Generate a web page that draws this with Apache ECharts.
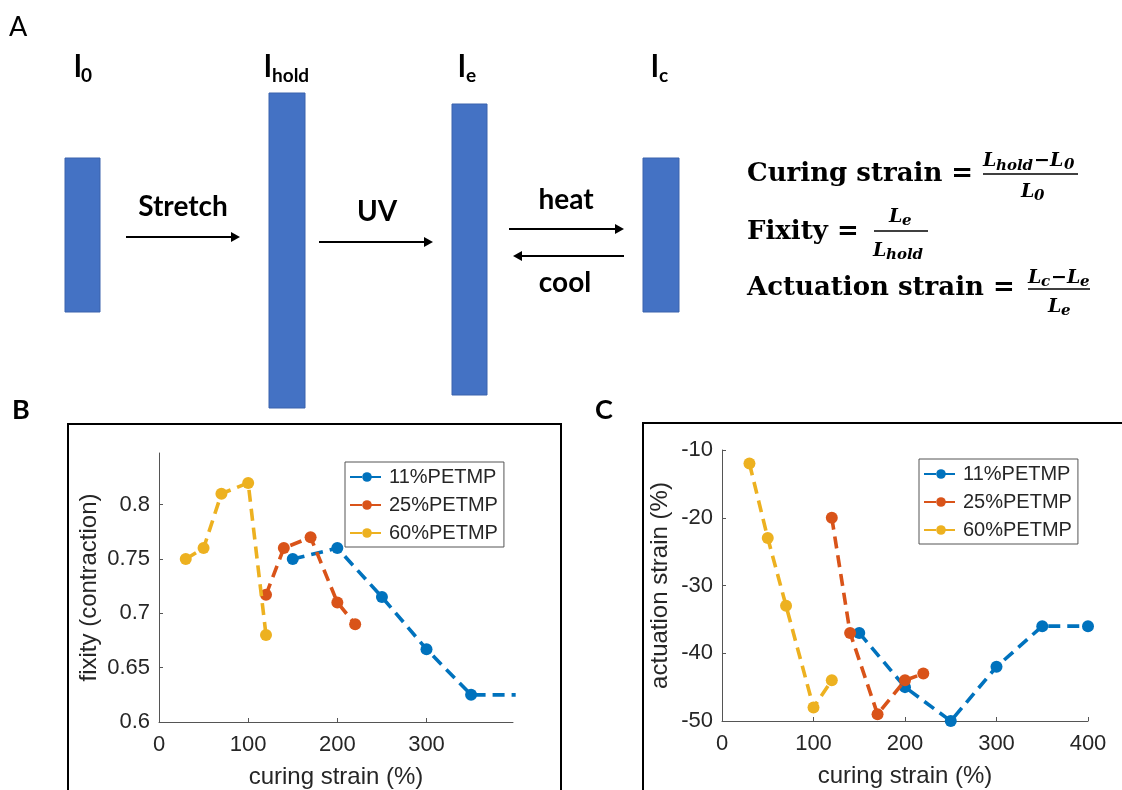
<!DOCTYPE html>
<html>
<head>
<meta charset="utf-8">
<script src="https://cdn.jsdelivr.net/npm/echarts@6/dist/echarts.min.js"></script>
<style>
  html, body { margin: 0; padding: 0; background: #fff; }
  #main { width: 1122px; height: 790px; }
</style>
</head>
<body>
<div id="main"></div>
<script>
// -- Data --
const seriesNames = ['11%PETMP', '25%PETMP', '60%PETMP'];

// curing strain (%) per sample
const strain11 = [150, 200, 250, 300, 350, 400];
const strain25 = [120, 140, 170, 200, 220];
const strain60 = [30, 50, 70, 100, 120];

// panel B: fixity (contraction)
const fixity11 = [0.75, 0.76, 0.715, 0.667, 0.625, 0.625];
const fixity25 = [0.717, 0.76, 0.77, 0.71, 0.69];
const fixity60 = [0.75, 0.76, 0.81, 0.82, 0.68];

// panel C: actuation strain (%)
const act11 = [-37, -45, -50, -42, -36, -36];
const act25 = [-20, -37, -49, -44, -43];
const act60 = [-12, -23, -33, -48, -44];

// MATLAB default line colors
const COLORS = ['#0072BD', '#D95319', '#EDB120'];
const TEXT = '#262626';
const AXIS = '#555555';
const BAR_FILL = '#4472C4';

const pairs = (xs, ys) => xs.map((x, i) => [x, ys[i]]);

// -- Panel A helpers --
function txt(x, y, text, font, align) {
  return {
    type: 'text', silent: true,
    style: { text, x, y, font, fill: '#000', textAlign: align || 'left', textVerticalAlign: 'middle' }
  };
}
function box(x, y, w, h) {
  return {
    type: 'rect', silent: true,
    shape: { x, y, width: w, height: h },
    style: { fill: BAR_FILL, stroke: '#3a62ad', lineWidth: 1 }
  };
}
function arrow(x1, x2, y) {
  const dir = x2 > x1 ? 1 : -1;
  const head = 9;
  return [
    { type: 'line', silent: true, shape: { x1, y1: y, x2: x2 - dir * head, y2: y }, style: { stroke: '#000', lineWidth: 2.2 } },
    { type: 'polygon', silent: true, shape: { points: [[x2, y], [x2 - dir * head, y - 5], [x2 - dir * head, y + 5]] }, style: { fill: '#000' } }
  ];
}
function fracLine(x1, x2, y) {
  return { type: 'line', silent: true, shape: { x1, y1: y, x2, y2: y }, style: { stroke: '#000', lineWidth: 1.6 } };
}

const LBL = 'bold 31px Lato';
const SUB = 'bold 19px Lato';
const EQ = 'bold 26px "DejaVu Serif"';
const FI = 'italic bold 19px "DejaVu Serif"';
const FS = 'italic bold 15px "DejaVu Serif"';

const diagram = [
  txt(9, 27, 'A', '27px Lato'),
  txt(12, 410, 'B', 'bold 27px Lato'),
  txt(595, 410, 'C', 'bold 27px Lato'),

  box(65, 158, 35, 154),
  box(269, 93, 36, 315),
  box(452, 104, 35, 291),
  box(643, 158, 36, 154),

  txt(74, 67, 'l', LBL), txt(81, 76, '0', SUB),
  txt(264, 67, 'l', LBL), txt(272, 76, 'hold', SUB),
  txt(458, 67, 'l', LBL), txt(466, 76, 'e', SUB),
  txt(651, 67, 'l', LBL), txt(659, 76, 'c', SUB),

  txt(183, 207, 'Stretch', 'bold 28px Lato', 'center'),
  txt(377, 212, 'UV', 'bold 28px Lato', 'center'),
  txt(566, 200, 'heat', 'bold 28px Lato', 'center'),
  txt(565, 283, 'cool', 'bold 28px Lato', 'center'),
  ...arrow(126, 240, 237),
  ...arrow(319, 433, 242),
  ...arrow(509, 624, 229),
  ...arrow(624, 513, 256),

  // formulas
  txt(747, 174, 'Curing strain =', EQ),
  txt(983, 161, 'L', FI), txt(996, 166, 'hold', FS), txt(1034, 161, '\u2212L', FI), txt(1064, 165, '0', FS),
  fracLine(983, 1078, 174),
  txt(1021, 192, 'L', FI), txt(1034, 196, '0', FS),

  txt(747, 232, 'Fixity =', EQ),
  txt(889, 217, 'L', FI), txt(902, 221, 'e', FS),
  fracLine(874, 928, 231),
  txt(873, 251, 'L', FI), txt(886, 255, 'hold', FS),

  txt(747, 288, 'Actuation strain =', EQ),
  txt(1028, 278, 'L', FI), txt(1041, 282, 'c', FS), txt(1051, 278, '\u2212L', FI), txt(1080, 282, 'e', FS),
  fracLine(1028, 1090, 289),
  txt(1048, 307, 'L', FI), txt(1061, 311, 'e', FS),

  // outer panel frames for B and C
  { type: 'rect', silent: true, shape: { x: 68, y: 424, width: 493, height: 420 }, style: { fill: 'none', stroke: '#000', lineWidth: 2 } },
  { type: 'rect', silent: true, shape: { x: 643, y: 423, width: 520, height: 420 }, style: { fill: 'none', stroke: '#000', lineWidth: 2 } }
];

// -- Axis helpers --
const axisCommon = {
  axisLine: { show: true, onZero: false, lineStyle: { color: AXIS, width: 1 } },
  axisTick: { show: true, inside: true, length: 4, lineStyle: { color: AXIS } },
  splitLine: { show: false },
  axisLabel: { color: TEXT, fontSize: 22, fontFamily: 'Liberation Sans' },
  nameLocation: 'middle',
  nameTextStyle: { color: TEXT, fontSize: 24, fontFamily: 'Liberation Sans' }
};
function xAx(grid, max, extra) {
  return Object.assign({}, axisCommon, {
    type: 'value', gridIndex: grid, min: 0, max, interval: 100,
    name: 'curing strain (%)', nameGap: 43,
    axisLabel: Object.assign({}, axisCommon.axisLabel, { margin: 12 })
  }, extra);
}
function yAx(grid, min, max, interval, name, gap, extra) {
  return Object.assign({}, axisCommon, {
    type: 'value', gridIndex: grid, min, max, interval, name, nameGap: gap,
    axisLabel: Object.assign({}, axisCommon.axisLabel, { margin: 9 })
  }, extra);
}

function lineSeries(idx, xs, ys, grid) {
  return {
    name: seriesNames[idx], type: 'line',
    xAxisIndex: grid, yAxisIndex: grid,
    data: pairs(xs, ys),
    symbol: 'circle', symbolSize: 12, clip: true,
    lineStyle: { color: COLORS[idx], width: 3.6, type: [12, 7] },
    itemStyle: { color: COLORS[idx] },
    z: 2 + idx
  };
}

function legendAt(left, top) {
  return {
    left, top, orient: 'vertical',
    data: seriesNames,
    itemWidth: 34, itemHeight: 12, itemGap: 8,
    padding: [5, 6, 4, 4],
    borderColor: AXIS, borderWidth: 1, backgroundColor: '#fff',
    selectedMode: false,
    textStyle: { color: TEXT, fontSize: 20, fontFamily: 'Liberation Sans' }
  };
}

const chart = echarts.init(document.getElementById('main'), null, { renderer: 'canvas' });
chart.setOption({
  animation: false,
  backgroundColor: '#fff',
  graphic: { elements: diagram },
  grid: [
    { left: 159, top: 453, width: 354, height: 270 },
    { left: 722, top: 450, width: 366, height: 271 }
  ],
  xAxis: [
    xAx(0, 397, { axisLabel: Object.assign({}, axisCommon.axisLabel, { margin: 12, showMaxLabel: false }) }),
    xAx(1, 400)
  ],
  yAxis: [
    yAx(0, 0.6, 0.8475, 0.05, 'fixity (contraction)', 58,
      { axisLabel: Object.assign({}, axisCommon.axisLabel, { margin: 9, showMaxLabel: false }) }),
    yAx(1, -50, -10, 10, 'actuation strain (%)', 50)
  ],
  legend: [legendAt(345, 462), legendAt(919, 459)],
  series: [
    lineSeries(0, strain11, fixity11, 0),
    lineSeries(1, strain25, fixity25, 0),
    lineSeries(2, strain60, fixity60, 0),
    lineSeries(0, strain11, act11, 1),
    lineSeries(1, strain25, act25, 1),
    lineSeries(2, strain60, act60, 1)
  ]
});
</script>
</body>
</html>
